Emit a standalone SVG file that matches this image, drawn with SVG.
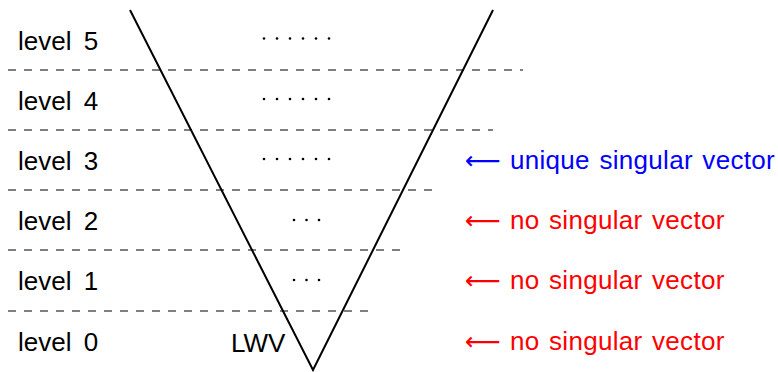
<svg xmlns="http://www.w3.org/2000/svg" width="778" height="372" viewBox="0 0 778 372">
<style>
text{font-family:"Liberation Sans","DejaVu Sans",sans-serif;font-size:26px;word-spacing:5px;fill:#000}
.note{word-spacing:2px;letter-spacing:0.3px}
.dash{stroke:#555;stroke-width:1.3;stroke-dasharray:8 8;fill:none}
.arr{font-family:"DejaVu Sans",sans-serif;font-size:25px;letter-spacing:0}
.blue{fill:#0000ff}
.red{fill:#ff0000}
</style>
<rect width="778" height="372" fill="#fff"/>
<g id="connectors">
<line class="dash" x1="8" y1="70" x2="523" y2="70"/>
<line class="dash" x1="8" y1="130" x2="493" y2="130"/>
<line class="dash" x1="8" y1="190" x2="432" y2="190"/>
<line class="dash" x1="8" y1="250" x2="400" y2="250"/>
<line class="dash" x1="8" y1="311" x2="369" y2="311"/>
<polyline points="130,10 313,370 493,10" fill="none" stroke="#000" stroke-width="2"/>
</g>
<g id="level5"><text x="18" y="50">level 5</text></g>
<g id="level4"><text x="18" y="110">level 4</text></g>
<g id="level3"><text x="18" y="170">level 3</text></g>
<g id="level2"><text x="18" y="230">level 2</text></g>
<g id="level1"><text x="18" y="290">level 1</text></g>
<g id="level0"><text x="18" y="351">level 0</text></g>
<g id="dots">
<g fill="#000">
<circle cx="264" cy="38.5" r="1.3"/><circle cx="277" cy="38.5" r="1.3"/><circle cx="290" cy="38.5" r="1.3"/><circle cx="303" cy="38.5" r="1.3"/><circle cx="316" cy="38.5" r="1.3"/><circle cx="329" cy="38.5" r="1.3"/>
<circle cx="264" cy="99" r="1.3"/><circle cx="277" cy="99" r="1.3"/><circle cx="290" cy="99" r="1.3"/><circle cx="303" cy="99" r="1.3"/><circle cx="316" cy="99" r="1.3"/><circle cx="329" cy="99" r="1.3"/>
<circle cx="264" cy="159" r="1.3"/><circle cx="277" cy="159" r="1.3"/><circle cx="290" cy="159" r="1.3"/><circle cx="303" cy="159" r="1.3"/><circle cx="316" cy="159" r="1.3"/><circle cx="329" cy="159" r="1.3"/>
<circle cx="294" cy="220" r="1.3"/><circle cx="306.5" cy="220" r="1.3"/><circle cx="319" cy="220" r="1.3"/>
<circle cx="294" cy="280" r="1.3"/><circle cx="306.5" cy="280" r="1.3"/><circle cx="319" cy="280" r="1.3"/>
</g>
</g>
<g id="lwv"><text x="231" y="352">LWV</text></g>
<g id="note3"><text class="blue note" y="169"><tspan class="arr blue" x="465">⟵</tspan><tspan x="510">unique singular vector</tspan></text></g>
<g id="note2"><text class="red note" y="229"><tspan class="arr red" x="465">⟵</tspan><tspan x="510">no singular vector</tspan></text></g>
<g id="note1"><text class="red note" y="289"><tspan class="arr red" x="465">⟵</tspan><tspan x="510">no singular vector</tspan></text></g>
<g id="note0"><text class="red note" y="350"><tspan class="arr red" x="465">⟵</tspan><tspan x="510">no singular vector</tspan></text></g>
</svg>
